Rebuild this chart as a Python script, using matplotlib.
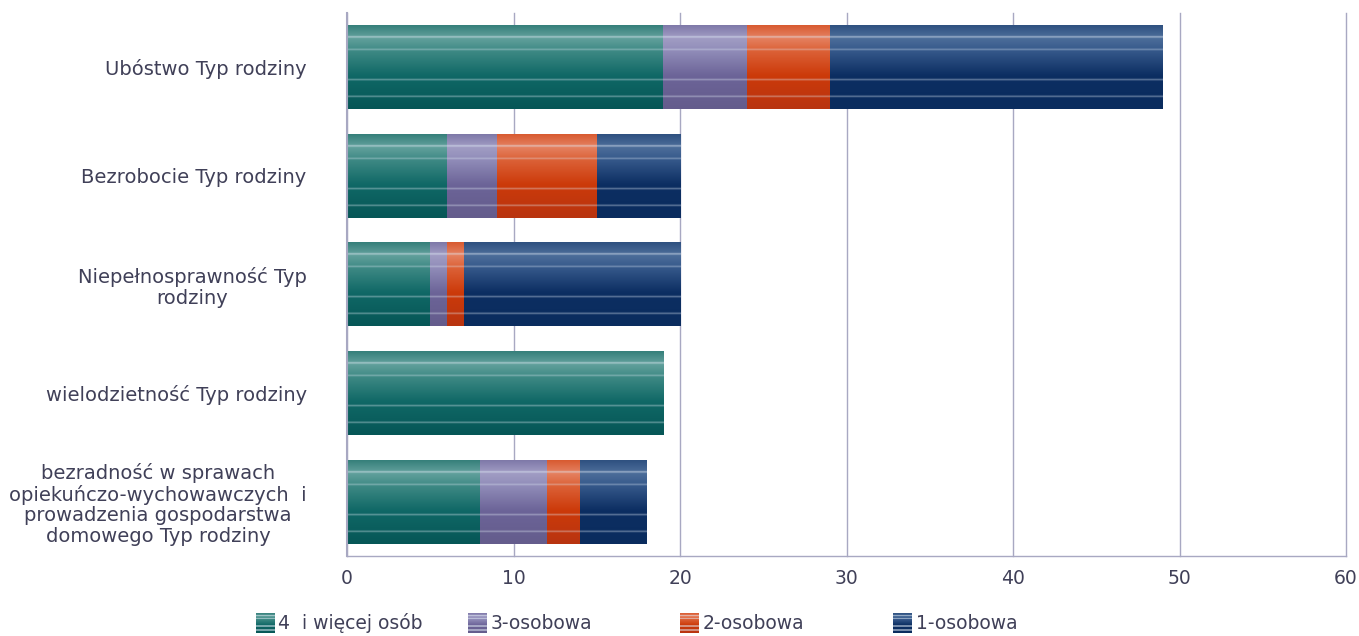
import numpy as np
import matplotlib
matplotlib.use("Agg")
import matplotlib.pyplot as plt
from matplotlib.patches import Rectangle
from matplotlib.legend_handler import HandlerBase
from matplotlib.colors import to_rgb

categories = [
    "Ubóstwo Typ rodziny",
    "Bezrobocie Typ rodziny",
    "Niepełnosprawność Typ\nrodziny",
    "wielodzietność Typ rodziny",
    "bezradność w sprawach\nopiekuńczo-wychowawczych  i\nprowadzenia gospodarstwa\ndomowego Typ rodziny",
]
series_names = ["4  i więcej osób", "3-osobowa", "2-osobowa", "1-osobowa"]
s4plus = [19, 6, 5, 19, 8]
s3 = [5, 3, 1, 0, 4]
s2 = [5, 6, 1, 0, 2]
s1 = [20, 5, 13, 0, 4]
xticks = [0, 10, 20, 30, 40, 50, 60]

# gradient stops (top -> bottom) for each series
grads = [
    [(0.0, "#357f7a"), (0.15, "#63a19d"), (0.3, "#3f8a85"), (0.6, "#106866"), (1.0, "#065656")],
    [(0.0, "#7e78a8"), (0.15, "#a19dc4"), (0.3, "#918db9"), (0.6, "#6c6498"), (1.0, "#645c8c")],
    [(0.0, "#d85a30"), (0.15, "#e58262"), (0.3, "#dc6238"), (0.6, "#cc3a0a"), (1.0, "#b83410")],
    [(0.0, "#2e5080"), (0.15, "#4d6e9a"), (0.3, "#36598b"), (0.6, "#0c2e62"), (1.0, "#0a2c5e")],
]
stripes = [0.14, 0.29, 0.65, 0.85]
stripe_strength = [0.6, 0.4, 0.45, 0.45]


def grad_color(stops, t):
    ps = [p for p, _ in stops]
    cs = np.array([to_rgb(c) for _, c in stops])
    return np.array([np.interp(t, ps, cs[:, k]) for k in range(3)])


def grad_image(stops, n=400):
    img = np.zeros((n, 1, 3))
    hw = 0.016
    for r in range(n):
        t = r / (n - 1)
        c = grad_color(stops, t)
        for s, st in zip(stripes, stripe_strength):
            d = abs(t - s)
            if d < hw:
                c = c + (np.array([0.88, 0.92, 0.96]) - c) * st * (1 - d / hw)
        img[r, 0] = c
    return img


plt.rcParams['font.family'] = ['DejaVu Sans']
text_color = "#404058"
grid_color = "#a8a8c2"

fig = plt.figure(figsize=(13.59, 6.36), dpi=100)
ax = fig.add_axes([347 / 1359, 1 - 556 / 636, 999 / 1359, 543 / 636])

n = len(categories)
ypos = np.arange(n)[::-1].astype(float)
h = 0.77
data = [s4plus, s3, s2, s1]
imgs = [grad_image(g) for g in grads]
left = np.zeros(n)
for si, vals in enumerate(data):
    vals = np.array(vals, dtype=float)
    bars = ax.barh(ypos, vals, left=left, height=h, color="none", edgecolor="none")
    for b, v in zip(bars, vals):
        if v <= 0:
            continue
        x0, y0 = b.get_x(), b.get_y()
        ax.imshow(imgs[si], extent=(x0, x0 + b.get_width(), y0, y0 + b.get_height()),
                  origin="upper", aspect="auto", zorder=3, interpolation="bilinear")
    left += vals

ax.set_xlim(0, 60)
ax.set_ylim(-0.5, n - 0.5)
ax.set_xticks(xticks)
ax.set_yticks(ypos)
ax.set_yticklabels(categories, multialignment="center", linespacing=1.1)
ax.tick_params(axis="y", length=0, pad=29, labelsize=14, labelcolor=text_color)
ax.tick_params(axis="x", length=0, pad=9, labelsize=13.5, labelcolor=text_color)
ax.grid(axis="x", color=grid_color, lw=1.0, zorder=0)
for gl in ax.get_xgridlines():
    gl.set_clip_on(False)
ax.set_axisbelow(True)
for sp in ["top", "right"]:
    ax.spines[sp].set_visible(False)
for sp in ["left", "bottom"]:
    ax.spines[sp].set_color(grid_color)
    ax.spines[sp].set_zorder(5)
ax.spines["left"].set_linewidth(1.5)
ax.spines["bottom"].set_linewidth(1.0)


class GradHandler(HandlerBase):
    def __init__(self, stops):
        super().__init__()
        self.stops = stops

    def create_artists(self, legend, orig_handle, xdescent, ydescent, width, height, fontsize, trans):
        arts = []
        m = 20
        for k in range(m):
            t = (k + 0.5) / m
            c = grad_color(self.stops, t)
            for s in stripes:
                if abs(t - s) < 0.5 / m + 1e-9:
                    c = c + (np.array([0.88, 0.92, 0.96]) - c) * 0.5
            r = Rectangle((-xdescent, -ydescent + height * (1 - (k + 1) / m)), width, height / m,
                          facecolor=c, edgecolor="none", lw=0, transform=trans)
            arts.append(r)
        return arts


legend_x = [256, 468, 680, 893]
for si, name in enumerate(series_names):
    handle = Rectangle((0, 0), 1, 1)
    leg = fig.legend([handle], [name], loc="center left",
                     bbox_to_anchor=(legend_x[si] / 1359, 1 - 623 / 636),
                     frameon=False, fontsize=13.5, handlelength=1.0, handleheight=1.3,
                     handletextpad=0.2, borderpad=0, borderaxespad=0,
                     handler_map={Rectangle: GradHandler(grads[si])})
    for t in leg.get_texts():
        t.set_color(text_color)

fig.savefig("out.png", dpi=100)
